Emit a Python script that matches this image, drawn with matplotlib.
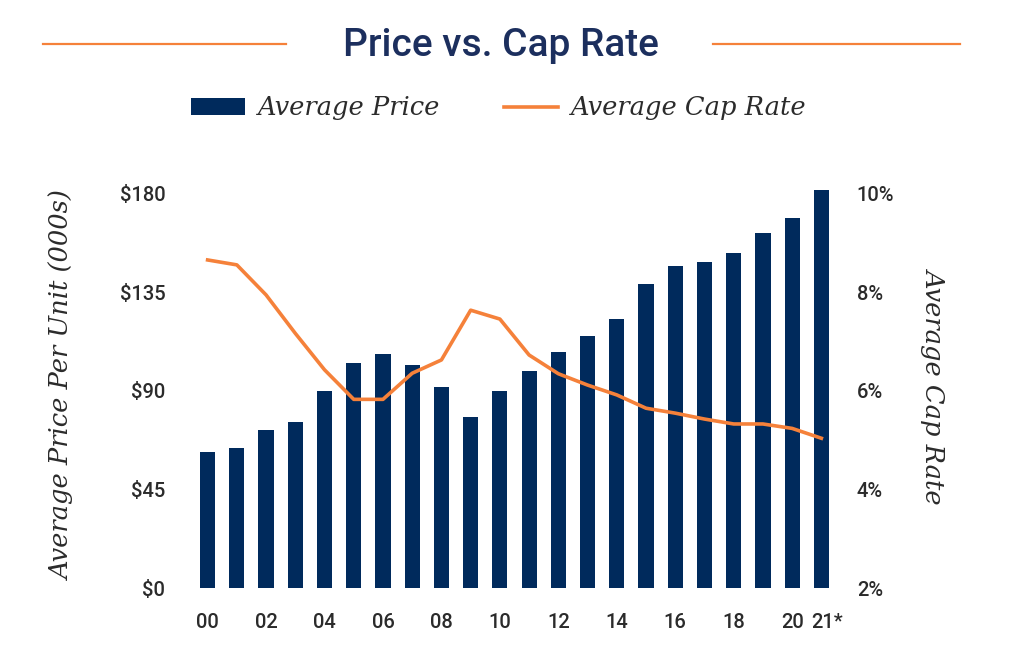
import matplotlib.pyplot as plt
import matplotlib.transforms as mtransforms
from matplotlib.lines import Line2D
import numpy as np

years = ['00', '01', '02', '03', '04', '05', '06', '07', '08', '09', '10',
         '11', '12', '13', '14', '15', '16', '17', '18', '19', '20', '21*']
avg_price = [62, 64, 72, 76, 90, 103, 107, 102, 92, 78, 90,
             99, 108, 115, 123, 139, 147, 149, 153, 162, 169, 182]
cap_rate = [8.66, 8.56, 7.95, 7.17, 6.43, 5.83, 5.83, 6.36, 6.63, 7.64, 7.46,
            6.73, 6.35, 6.12, 5.92, 5.65, 5.55, 5.43, 5.33, 5.33, 5.24, 5.04]
price_ticks = [0, 45, 90, 135, 180]
rate_ticks = [2, 4, 6, 8, 10]

NAVY = '#002a5c'
ORANGE = '#f5813a'
TEXT = '#2b2b2b'

sans = ['Roboto', 'DejaVu Sans']
serif_it = dict(family='DejaVu Serif', style='italic')

fig = plt.figure(figsize=(10.24, 6.69), dpi=100)
ax = fig.add_axes([193 / 1024, 1 - 588 / 669, (836 - 193) / 1024, (588 - 183) / 669])
ax2 = ax.twinx()

x = np.arange(len(years))
bars = ax.bar(x, avg_price, width=0.52, color=NAVY, zorder=2)
line, = ax2.plot(x, cap_rate, color=ORANGE, lw=2.6, zorder=3)

ax.set_xlim(-0.5, len(years) - 0.5)
ax.set_ylim(0, 185)
ax2.set_ylim(2, 2 + 185 / 180 * 8)

ax.set_yticks(price_ticks)
ax.set_yticklabels(['$' + str(v) for v in price_ticks])
ax2.set_yticks(rate_ticks)
ax2.set_yticklabels([str(v) + '%' for v in rate_ticks])

xt = [i for i in range(len(years)) if i % 2 == 0] + [len(years) - 1]
ax.set_xticks(xt)
ax.set_xticklabels([years[i] for i in xt])

for a in (ax, ax2):
    for s in a.spines.values():
        s.set_visible(False)
    a.tick_params(length=0, labelsize=14.5, labelcolor=TEXT)
    for lbl in a.get_xticklabels() + a.get_yticklabels():
        lbl.set_family(sans)
        lbl.set_fontweight('medium')
ax.tick_params(axis='y', pad=20)
ax.tick_params(axis='x', pad=18)
ax2.tick_params(axis='y', pad=15)

# nudge the last year label so "20" and "21*" don't run together
last = ax.get_xticklabels()[-1]
last.set_transform(last.get_transform() +
                   mtransforms.ScaledTranslation(6 / 100, 0, fig.dpi_scale_trans))

ax.set_ylabel('Average Price Per Unit (000s)', fontsize=18.5, color=TEXT,
              labelpad=32, **serif_it)
ax2.set_ylabel('Average Cap Rate', fontsize=18.5, color=TEXT, rotation=270,
               labelpad=38, **serif_it)

# title with orange rules on both sides
fig.text(0.4895, 1 - 45 / 669, 'Price vs. Cap Rate', ha='center', va='center',
         fontsize=28, color='#1c2f5e', family=sans, fontweight='medium')
fig.add_artist(Line2D([43 / 1024, 286 / 1024], [1 - 44 / 669] * 2, color=ORANGE, lw=1.6))
fig.add_artist(Line2D([713 / 1024, 960 / 1024], [1 - 44 / 669] * 2, color=ORANGE, lw=1.6))

fig.legend([bars, line], ['Average Price', 'Average Cap Rate'],
           loc='center', bbox_to_anchor=(0.487, 1 - 108 / 669), ncol=2,
           frameon=False, prop=dict(size=18.5, **serif_it),
           handlelength=2.1, handleheight=0.62, columnspacing=2.5,
           handletextpad=0.5, labelcolor=TEXT)

fig.savefig('out.png', dpi=100)
